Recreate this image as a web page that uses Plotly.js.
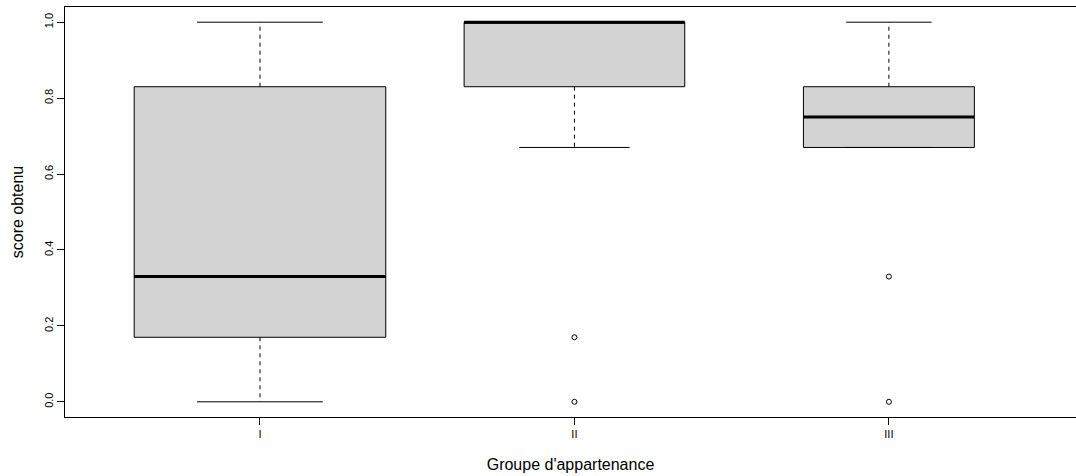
<!DOCTYPE html>
<html>
<head>
<meta charset="utf-8">
<script src="https://cdn.plot.ly/plotly-3.0.1.min.js"></script>
<style>html,body{margin:0;padding:0;background:#fff;}#chart{width:1076px;height:476px;}</style>
</head>
<body>
<div id="chart"></div>
<script>
// ---- data ----
const groups = ["I", "II", "III"];
const lowerWhisker = [0.00, 0.67, 0.67];
const q1 = [0.17, 0.83, 0.67];
const median = [0.33, 1.00, 0.75];
const q3 = [0.83, 1.00, 0.83];
const upperWhisker = [1.00, 1.00, 1.00];
const groupSizes = [13, 10, 6];   // varwidth: box width ~ sqrt(n)
const outliers = [[], [0.17, 0.00], [0.33, 0.00]];
const yTicks = [0, 0.2, 0.4, 0.6, 0.8, 1.0];

// ---- build traces ----
const maxN = Math.max(...groupSizes);
const pos = groups.map((g, i) => i + 1);
const widths = groupSizes.map(n => 0.8 * Math.sqrt(n / maxN));
const font = "Liberation Sans, Arial, sans-serif";

const traces = [];
groups.forEach((g, i) => {
  traces.push({
    type: "box", name: g, x: [pos[i]],
    q1: [q1[i]], median: [median[i]], q3: [q3[i]],
    lowerfence: [q1[i]], upperfence: [q3[i]],
    width: widths[i], boxpoints: false, whiskerwidth: 0,
    fillcolor: "#d3d3d3", line: {color: "#000", width: 1},
    hoverinfo: "skip", showlegend: false
  });
});

const wx = [], wy = [], cx = [], cy = [], mx = [], my = [], ox = [], oy = [];
groups.forEach((g, i) => {
  const x = pos[i], w = widths[i];
  wx.push(x, x, null, x, x, null);
  wy.push(q3[i], upperWhisker[i], null, q1[i], lowerWhisker[i], null);
  cx.push(x - w / 4, x + w / 4, null, x - w / 4, x + w / 4, null);
  cy.push(upperWhisker[i], upperWhisker[i], null, lowerWhisker[i], lowerWhisker[i], null);
  mx.push(x - w / 2, x + w / 2, null);
  my.push(median[i], median[i], null);
  outliers[i].forEach(v => { ox.push(x); oy.push(v); });
});

traces.push({type: "scatter", mode: "lines", x: wx, y: wy, line: {color: "#000", width: 1, dash: "4px,4px"}, hoverinfo: "skip", showlegend: false});
traces.push({type: "scatter", mode: "lines", x: cx, y: cy, line: {color: "#000", width: 1}, hoverinfo: "skip", showlegend: false});
traces.push({type: "scatter", mode: "lines", x: mx, y: my, line: {color: "#000", width: 3}, hoverinfo: "skip", showlegend: false});
traces.push({type: "scatter", mode: "markers", x: ox, y: oy,
  marker: {symbol: "circle-open", size: 5, color: "#000", line: {width: 1, color: "#000"}},
  hoverinfo: "skip", showlegend: false});

const layout = {
  width: 1076, height: 476,
  margin: {l: 65, r: 0, t: 7, b: 59},
  paper_bgcolor: "#fff", plot_bgcolor: "#fff",
  font: {family: font, color: "#000"},
  showlegend: false,
  xaxis: {
    range: [0.38, 3.595], tickvals: pos, ticktext: groups,
    showline: true, mirror: true, linecolor: "#000", linewidth: 1,
    ticks: "outside", ticklen: 7, tickcolor: "#000", tickwidth: 1,
    showgrid: false, zeroline: false, tickfont: {size: 11, family: font},
    title: {text: "Groupe d'appartenance", font: {size: 16, family: font}, standoff: 19}
  },
  yaxis: {
    range: [-0.04, 1.04], tickvals: yTicks, tickformat: ".1f", tickangle: -90,
    showline: true, mirror: false, linecolor: "#000", linewidth: 1,
    ticks: "outside", ticklen: 7, tickcolor: "#000", tickwidth: 1,
    showgrid: false, zeroline: false, tickfont: {size: 11, family: font},
    title: {text: "score obtenu", font: {size: 16, family: font}, standoff: 14}
  }
};

Plotly.newPlot("chart", traces, layout, {staticPlot: true, displayModeBar: false});
</script>
</body>
</html>
